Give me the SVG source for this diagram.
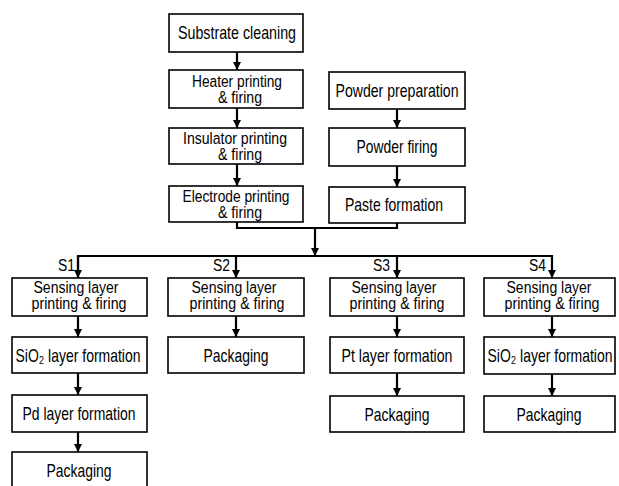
<svg xmlns="http://www.w3.org/2000/svg" width="619" height="486" viewBox="0 0 619 486">
<style>
.box{fill:#fff;stroke:#000;stroke-width:1.6}
.t{font-family:"Liberation Sans",Arial,sans-serif;font-size:18px;text-anchor:middle;fill:#000}
.t2{font-family:"Liberation Sans",Arial,sans-serif;font-size:17px;text-anchor:middle;fill:#000}
.l{font-family:"Liberation Sans",Arial,sans-serif;font-size:17px;text-anchor:end;fill:#000}
.c{fill:none;stroke:#000;stroke-width:2.2}
</style>
<defs>
<marker id="ah" viewBox="0 0 10 10" refX="10" refY="5" markerWidth="8" markerHeight="8" markerUnits="userSpaceOnUse" orient="auto">
<path d="M0,0 L10,5 L0,10 z" fill="#000"/>
</marker>
</defs>
<rect width="619" height="486" fill="#fff"/>
<g id="connectors">
<path class="c" d="M237 52 V70" marker-end="url(#ah)"/>
<path class="c" d="M237 108 V128" marker-end="url(#ah)"/>
<path class="c" d="M237 164 V186" marker-end="url(#ah)"/>
<path class="c" d="M397 109 V128" marker-end="url(#ah)"/>
<path class="c" d="M397 166 V187" marker-end="url(#ah)"/>
<path class="c" d="M237 222 V228 H397 V223"/>
<path class="c" d="M315 228 V256" marker-end="url(#ah)"/>
<path class="c" d="M78 278 V256 H552 V278" marker-end="url(#ah)"/>
<path class="c" d="M78 256 V278" marker-end="url(#ah)"/>
<path class="c" d="M236 256 V278" marker-end="url(#ah)"/>
<path class="c" d="M397 256 V278" marker-end="url(#ah)"/>
<path class="c" d="M78 316 V337" marker-end="url(#ah)"/>
<path class="c" d="M78 373 V395" marker-end="url(#ah)"/>
<path class="c" d="M78 432 V452" marker-end="url(#ah)"/>
<path class="c" d="M236 316 V337" marker-end="url(#ah)"/>
<path class="c" d="M397 316 V337" marker-end="url(#ah)"/>
<path class="c" d="M397 373 V396" marker-end="url(#ah)"/>
<path class="c" d="M552 316 V337" marker-end="url(#ah)"/>
<path class="c" d="M552 374 V396" marker-end="url(#ah)"/>
<text class="l" transform="translate(75 271) scale(0.8 1)" textLength="21.25" lengthAdjust="spacingAndGlyphs">S1</text>
<text class="l" transform="translate(230 271) scale(0.8 1)" textLength="21.25" lengthAdjust="spacingAndGlyphs">S2</text>
<text class="l" transform="translate(390 271) scale(0.8 1)" textLength="21.25" lengthAdjust="spacingAndGlyphs">S3</text>
<text class="l" transform="translate(546 271) scale(0.8 1)" textLength="21.25" lengthAdjust="spacingAndGlyphs">S4</text>
</g>
<g id="substrate">
<rect class="box" x="169" y="14" width="134" height="38"/>
<text class="t" transform="translate(237 39) scale(0.8 1)" textLength="147.5" lengthAdjust="spacingAndGlyphs">Substrate cleaning</text>
</g>
<g id="heater">
<rect class="box" x="169" y="70" width="134" height="38"/>
<text class="t2" transform="translate(237 87) scale(0.8 1)" textLength="112.5" lengthAdjust="spacingAndGlyphs">Heater printing</text>
<text class="t2" transform="translate(240 103) scale(0.8 1)" textLength="55" lengthAdjust="spacingAndGlyphs">&amp; firing</text>
</g>
<g id="insulator">
<rect class="box" x="169" y="128" width="134" height="36"/>
<text class="t2" transform="translate(235 144) scale(0.8 1)" textLength="130" lengthAdjust="spacingAndGlyphs">Insulator printing</text>
<text class="t2" transform="translate(240 160) scale(0.8 1)" textLength="55" lengthAdjust="spacingAndGlyphs">&amp; firing</text>
</g>
<g id="electrode">
<rect class="box" x="169" y="186" width="134" height="36"/>
<text class="t2" transform="translate(236 202) scale(0.8 1)" textLength="133.75" lengthAdjust="spacingAndGlyphs">Electrode printing</text>
<text class="t2" transform="translate(240 218) scale(0.8 1)" textLength="55" lengthAdjust="spacingAndGlyphs">&amp; firing</text>
</g>
<g id="powder-prep">
<rect class="box" x="329" y="72" width="136" height="37"/>
<text class="t" transform="translate(397 97) scale(0.8 1)" textLength="153.75" lengthAdjust="spacingAndGlyphs">Powder preparation</text>
</g>
<g id="powder-firing">
<rect class="box" x="329" y="128" width="136" height="38"/>
<text class="t" transform="translate(397 153) scale(0.8 1)" textLength="101.25" lengthAdjust="spacingAndGlyphs">Powder firing</text>
</g>
<g id="paste">
<rect class="box" x="329" y="187" width="136" height="36"/>
<text class="t" transform="translate(394 211) scale(0.8 1)" textLength="122.5" lengthAdjust="spacingAndGlyphs">Paste formation</text>
</g>
<g id="s1-sensing">
<rect class="box" x="12" y="278" width="135" height="38"/>
<text class="t2" transform="translate(76 293) scale(0.8 1)" textLength="106.25" lengthAdjust="spacingAndGlyphs">Sensing layer</text>
<text class="t2" transform="translate(79 309) scale(0.8 1)" textLength="118.75" lengthAdjust="spacingAndGlyphs">printing &amp; firing</text>
</g>
<g id="s1-sio2">
<rect class="box" x="12" y="337" width="135" height="36"/>
<text class="t" transform="translate(78 362) scale(0.8 1)" textLength="156.25" lengthAdjust="spacingAndGlyphs">SiO₂ layer formation</text>
</g>
<g id="s1-pd">
<rect class="box" x="12" y="395" width="135" height="37"/>
<text class="t" transform="translate(79 420) scale(0.8 1)" textLength="141.25" lengthAdjust="spacingAndGlyphs">Pd layer formation</text>
</g>
<g id="s1-packaging">
<rect class="box" x="12" y="452" width="135" height="40"/>
<text class="t" transform="translate(79 477) scale(0.8 1)" textLength="81.25" lengthAdjust="spacingAndGlyphs">Packaging</text>
</g>
<g id="s2-sensing">
<rect class="box" x="168" y="278" width="136" height="38"/>
<text class="t2" transform="translate(234 293) scale(0.8 1)" textLength="106.25" lengthAdjust="spacingAndGlyphs">Sensing layer</text>
<text class="t2" transform="translate(237 309) scale(0.8 1)" textLength="118.75" lengthAdjust="spacingAndGlyphs">printing &amp; firing</text>
</g>
<g id="s2-packaging">
<rect class="box" x="168" y="337" width="136" height="36"/>
<text class="t" transform="translate(236 362) scale(0.8 1)" textLength="81.25" lengthAdjust="spacingAndGlyphs">Packaging</text>
</g>
<g id="s3-sensing">
<rect class="box" x="330" y="278" width="134" height="38"/>
<text class="t2" transform="translate(394 293) scale(0.8 1)" textLength="106.25" lengthAdjust="spacingAndGlyphs">Sensing layer</text>
<text class="t2" transform="translate(397 309) scale(0.8 1)" textLength="118.75" lengthAdjust="spacingAndGlyphs">printing &amp; firing</text>
</g>
<g id="s3-pt">
<rect class="box" x="330" y="337" width="134" height="36"/>
<text class="t" transform="translate(397 362) scale(0.8 1)" textLength="138.75" lengthAdjust="spacingAndGlyphs">Pt layer formation</text>
</g>
<g id="s3-packaging">
<rect class="box" x="330" y="396" width="134" height="36"/>
<text class="t" transform="translate(397 421) scale(0.8 1)" textLength="81.25" lengthAdjust="spacingAndGlyphs">Packaging</text>
</g>
<g id="s4-sensing">
<rect class="box" x="484" y="278" width="131" height="38"/>
<text class="t2" transform="translate(549 293) scale(0.8 1)" textLength="106.25" lengthAdjust="spacingAndGlyphs">Sensing layer</text>
<text class="t2" transform="translate(552 309) scale(0.8 1)" textLength="118.75" lengthAdjust="spacingAndGlyphs">printing &amp; firing</text>
</g>
<g id="s4-sio2">
<rect class="box" x="484" y="337" width="131" height="37"/>
<text class="t" transform="translate(550 362) scale(0.8 1)" textLength="156.25" lengthAdjust="spacingAndGlyphs">SiO₂ layer formation</text>
</g>
<g id="s4-packaging">
<rect class="box" x="484" y="396" width="131" height="36"/>
<text class="t" transform="translate(549 421) scale(0.8 1)" textLength="81.25" lengthAdjust="spacingAndGlyphs">Packaging</text>
</g>
</svg>
